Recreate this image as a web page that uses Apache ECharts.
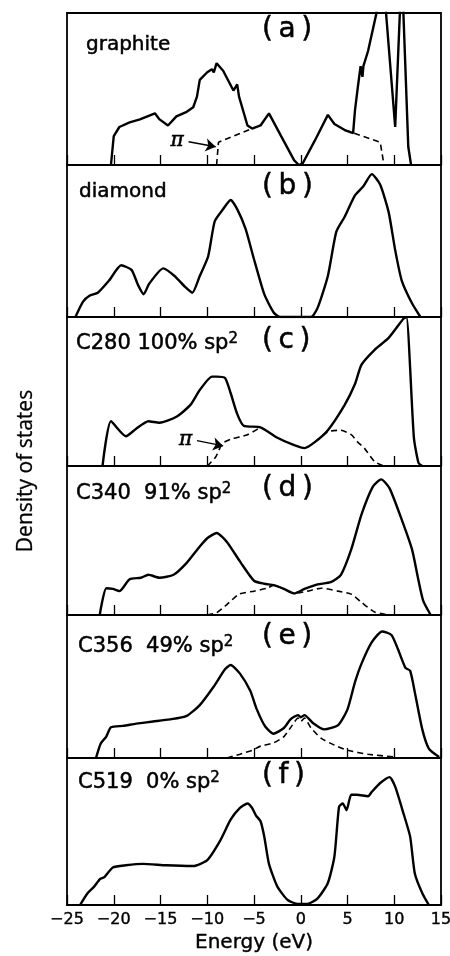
<!DOCTYPE html>
<html>
<head>
<meta charset="utf-8">
<script src="https://cdn.jsdelivr.net/npm/echarts@6/dist/echarts.min.js"></script>
<style>
  html, body { margin: 0; padding: 0; background: #fff; }
  #dos { width: 450px; height: 956px; }
</style>
</head>
<body>
<div id="dos"></div>
<script>
// [energy eV, DOS] ; DOS scaled so 1 = top of each panel
var graphite = [[-20.3,0],[-20.0,0.19],[-19.4,0.25],[-18.3,0.28],[-17.2,0.30],[-15.6,0.34],[-15.1,0.30],[-14.2,0.26],
  [-13.3,0.32],[-12.2,0.35],[-11.5,0.38],[-11.1,0.45],[-10.8,0.56],[-10.0,0.61],[-9.5,0.63],[-9.3,0.61],[-9.0,0.67],
  [-8.3,0.62],[-7.2,0.49],[-6.8,0.53],[-6.6,0.45],[-5.7,0.26],[-5.2,0.24],[-4.3,0.26],[-3.4,0.34],[-2.1,0.19],
  [-0.7,0.03],[-0.2,0],[0.2,0.01],[1.5,0.16],[2.9,0.33],[3.6,0.27],[4.7,0.23],[5.6,0.21],[5.8,0.36],[6.1,0.51],
  [6.4,0.65],[6.6,0.58],[6.7,0.65],[7.2,0.75],[8.1,1.0],[8.6,1.4],[10.1,0.25],[10.8,1.3],[11.5,0.12],[11.8,0]];
var graphitePiLow = [[-9.0,0],[-8.8,0.15],[-8.6,0.15],[-5.2,0.24]];
var graphitePiHigh = [[4.7,0.23],[8.5,0.15],[8.9,0]];
var graphiteArrow = [[-12.0,0.153],[-9.1,0.12]];

var diamond = [[-24.1,0],[-23.3,0.10],[-22.6,0.14],[-21.7,0.16],[-20.5,0.24],[-19.2,0.34],[-18.1,0.31],[-17.4,0.21],
  [-16.8,0.15],[-16.2,0.22],[-14.7,0.32],[-13.5,0.27],[-12.4,0.20],[-11.6,0.16],[-10.8,0.27],[-9.9,0.40],[-9.2,0.63],
  [-8.3,0.71],[-7.5,0.77],[-6.8,0.71],[-5.9,0.58],[-5.0,0.38],[-3.9,0.15],[-2.9,0.03],[-2.2,0],[1.1,0],[1.8,0.06],
  [2.9,0.27],[3.8,0.56],[4.7,0.66],[5.8,0.80],[6.7,0.86],[7.6,0.94],[8.5,0.87],[9.4,0.69],[10.1,0.44],[10.8,0.24],
  [11.9,0.09],[12.8,0]];

var c280 = [[-21.2,0],[-20.3,0.30],[-18.7,0.20],[-17.6,0.25],[-16.3,0.30],[-15.1,0.29],[-13.3,0.33],[-11.8,0.41],
  [-10.8,0.51],[-9.5,0.60],[-9.0,0.60],[-8.1,0.59],[-7.5,0.49],[-6.8,0.35],[-6.1,0.27],[-4.3,0.26],[-2.5,0.19],
  [-0.7,0.14],[0.4,0.12],[1.5,0.16],[2.9,0.24],[4.7,0.41],[5.8,0.55],[6.5,0.68],[7.9,0.78],[9.4,0.86],[11.0,0.99],
  [11.3,1.0],[12.1,0.19],[12.6,0.02],[13.0,0]];
var c280PiLow = [[-10.0,0],[-9.1,0.06],[-8.4,0.15],[-7.5,0.18],[-5.7,0.21],[-4.3,0.26]];
var c280PiHigh = [[1.5,0.16],[2.9,0.23],[4.3,0.24],[5.4,0.21],[6.1,0.16],[6.8,0.12],[7.9,0.03],[9.0,0],[10.1,0]];
var c280Arrow = [[-11.1,0.17],[-8.3,0.135]];

var c340 = [[-21.5,0],[-20.8,0.18],[-20.1,0.175],[-19.4,0.16],[-18.3,0.24],[-17.1,0.25],[-16.3,0.27],[-15.1,0.25],
  [-13.6,0.27],[-12.2,0.35],[-10.8,0.46],[-9.9,0.52],[-9.0,0.55],[-7.9,0.49],[-6.4,0.35],[-5.0,0.23],[-3.9,0.21],
  [-2.9,0.20],[-1.8,0.175],[-0.7,0.145],[0.4,0.175],[1.8,0.205],[3.2,0.22],[4.3,0.27],[5.4,0.44],[6.5,0.675],
  [7.7,0.86],[8.6,0.91],[9.5,0.85],[10.8,0.64],[11.9,0.44],[12.6,0.23],[13.1,0.095],[13.9,0]];
var c340Pi = [[-10.0,0],[-9.0,0.015],[-7.9,0.07],[-6.6,0.14],[-5.0,0.16],[-3.6,0.18],[-2.9,0.20],[-1.8,0.175],
  [-0.7,0.145],[0.7,0.16],[2.2,0.18],[4.0,0.16],[5.4,0.14],[6.5,0.085],[7.9,0.02],[9.4,0]];

var c356 = [[-21.9,0],[-21.4,0.10],[-20.8,0.15],[-20.3,0.215],[-19.0,0.225],[-17.6,0.24],[-15.8,0.255],[-14.0,0.27],
  [-12.2,0.295],[-10.8,0.37],[-9.3,0.50],[-8.1,0.62],[-7.5,0.65],[-6.5,0.59],[-5.4,0.47],[-4.7,0.34],[-3.8,0.22],
  [-2.9,0.17],[-1.8,0.21],[-1.1,0.27],[-0.3,0.30],[0.0,0.285],[0.4,0.30],[1.3,0.245],[2.5,0.20],[4.0,0.23],
  [5.0,0.34],[5.8,0.53],[6.5,0.66],[7.6,0.81],[8.7,0.885],[9.7,0.86],[10.4,0.76],[11.2,0.63],[11.7,0.61],
  [12.2,0.46],[13.0,0.20],[13.7,0.066],[14.8,0.007]];
var c356Pi = [[-7.9,0],[-6.5,0.026],[-5.2,0.054],[-4.3,0.083],[-2.9,0.106],[-1.8,0.15],[-0.9,0.23],[-0.3,0.28],
  [0.0,0.255],[0.4,0.28],[1.1,0.21],[2.2,0.137],[3.6,0.09],[5.0,0.054],[7.2,0.026],[10.1,0.007]];

var c519 = [[-23.6,0],[-22.8,0.08],[-22.1,0.125],[-21.5,0.175],[-21.0,0.19],[-20.1,0.255],[-18.7,0.27],[-16.9,0.28],
  [-14.4,0.27],[-11.5,0.265],[-10.0,0.305],[-8.6,0.44],[-7.5,0.58],[-6.5,0.66],[-5.7,0.69],[-5.2,0.66],[-4.8,0.61],
  [-4.3,0.57],[-3.9,0.465],[-3.4,0.28],[-2.5,0.125],[-1.4,0.034],[-0.3,0.007],[0.7,0.007],[1.8,0.045],[2.9,0.15],
  [3.6,0.33],[4.1,0.67],[4.5,0.69],[4.9,0.645],[5.4,0.75],[6.0,0.75],[7.2,0.74],[7.6,0.77],[8.5,0.83],[9.5,0.87],
  [10.1,0.805],[11.0,0.62],[11.7,0.465],[12.2,0.215],[13.0,0.08],[13.7,0]];

var panelNames = ['graphite', 'diamond', 'C280 100% sp{s|2}', 'C340  91% sp{s|2}', 'C356  49% sp{s|2}', 'C519  0% sp{s|2}'];
var panelTags = ['(\u2009a\u2009)', '(\u2009b\u2009)', '(\u2009c\u2009)', '(\u2009d\u2009)', '(\u2009e\u2009)', '(\u2009f\u2009)'];

var tops = [13, 165, 317, 466, 615, 758];
var heights = [152, 152, 149, 149, 143, 147];
var nameLefts = [86, 79, 76, 76, 78, 78];
var nameTops = [33, 180, 332, 482, 635, 771];
var tagTops = [16, 173, 327, 475, 623, 762];

var font = '"DejaVu Sans", sans-serif';
var ink = {color: '#000', textBorderColor: '#000', textBorderWidth: 0.5};

var grids = [], xAxes = [], yAxes = [], titles = [];
for (var i = 0; i < 6; i++) {
  var last = i === 5;
  grids.push({left: 67, right: 9, top: tops[i], height: heights[i], show: true, outerBoundsMode: 'none',
    borderColor: '#000', borderWidth: 1.8, backgroundColor: 'transparent'});
  xAxes.push({
    type: 'value', gridIndex: i, min: -25, max: 15, interval: 5,
    axisLine: {show: true, lineStyle: {color: '#000', width: 1.8}},
    axisTick: {show: true, inside: true, length: 10, lineStyle: {color: '#000', width: 1.3}},
    axisLabel: {show: last, color: '#000', fontFamily: font, fontSize: 16, margin: 7,
      textBorderColor: '#000', textBorderWidth: 0.4,
      showMinLabel: true, showMaxLabel: true,
      formatter: function (v) { return String(v).replace('-', '\u2212'); }},
    splitLine: {show: false},
    name: last ? 'Energy (eV)' : '', nameLocation: 'middle', nameGap: 28,
    nameTextStyle: {color: '#000', fontFamily: font, fontSize: 20, textBorderColor: '#000', textBorderWidth: 0.4}
  });
  yAxes.push({type: 'value', gridIndex: i, min: 0, max: 1, show: false});
  titles.push({text: panelNames[i], left: nameLefts[i], top: nameTops[i], padding: 0,
    textStyle: Object.assign({fontFamily: font, fontWeight: 'normal', fontSize: i < 2 ? 20 : 21, lineHeight: 24,
      rich: {s: Object.assign({fontFamily: font, fontSize: 15, verticalAlign: 'top', lineHeight: 6}, ink)}}, ink)});
  titles.push({text: panelTags[i], left: 262, top: tagTops[i], padding: 0,
    textStyle: Object.assign({fontFamily: font, fontWeight: 'normal', fontSize: 28}, ink)});
}

function solid(i, data) {
  return {type: 'line', xAxisIndex: i, yAxisIndex: i, data: data, symbol: 'none', z: 3,
    smooth: i === 0 ? false : 0.2,
    lineStyle: {color: '#000', width: 2.4}};
}
function dashed(i, data, arrow) {
  var s = {type: 'line', xAxisIndex: i, yAxisIndex: i, data: data, symbol: 'none', z: 2,
    smooth: i === 0 ? false : 0.2,
    lineStyle: {color: '#000', width: 1.6, type: [6, 4]}};
  if (arrow) {
    s.markLine = {
      silent: true, symbol: ['none', 'arrow'], symbolSize: 10,
      lineStyle: {color: '#000', width: 1.4, type: 'solid'},
      label: {show: true, position: 'start', formatter: '\u03c0', color: '#000',
        fontFamily: '"DejaVu Serif", serif', fontStyle: 'italic', fontSize: 20, distance: 5,
        textBorderColor: '#000', textBorderWidth: 0.6},
      data: [[{coord: arrow[0]}, {coord: arrow[1]}]]
    };
  }
  return s;
}

var option = {
  animation: false,
  backgroundColor: '#fff',
  title: titles,
  grid: grids,
  xAxis: xAxes,
  yAxis: yAxes,
  graphic: [{
    type: 'text', x: 26, y: 471, rotation: Math.PI / 2,
    style: {text: 'Density of states', fill: '#000', font: '21px "Open Sans", sans-serif',
      align: 'center', verticalAlign: 'middle', stroke: '#000', lineWidth: 0.3}
  }],
  series: [
    solid(0, graphite), dashed(0, graphitePiLow, graphiteArrow), dashed(0, graphitePiHigh),
    solid(1, diamond),
    solid(2, c280), dashed(2, c280PiLow, c280Arrow), dashed(2, c280PiHigh),
    solid(3, c340), dashed(3, c340Pi),
    solid(4, c356), dashed(4, c356Pi),
    solid(5, c519)
  ]
};

var chart = echarts.init(document.getElementById('dos'));
chart.setOption(option);
window.addEventListener('resize', function () { chart.resize(); });
</script>
</body>
</html>
